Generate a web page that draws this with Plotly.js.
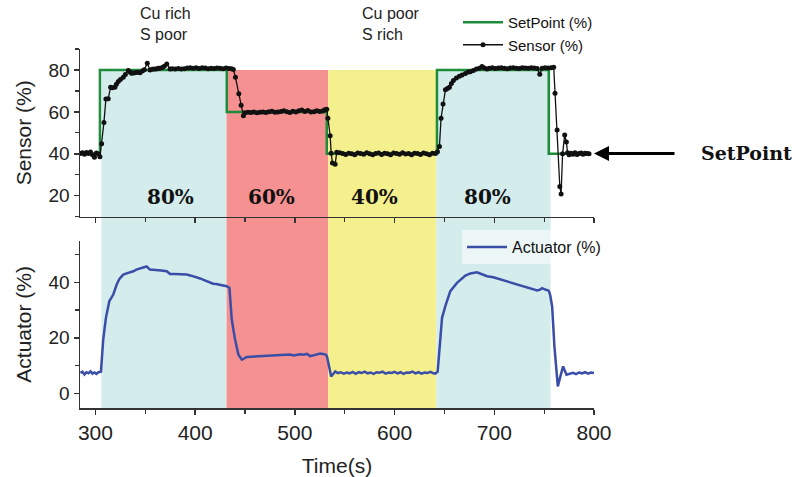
<!DOCTYPE html>
<html>
<head>
<meta charset="utf-8">
<script src="https://cdn.plot.ly/plotly-3.0.1.min.js"></script>
<style>html,body{margin:0;padding:0;background:#fff;}#chart{width:806px;height:477px;}</style>
</head>
<body>
<div id="chart"></div>
<script>
// ---- data ----
const setpointTime = [285, 304.5, 304.5, 431.7, 431.7, 532, 532, 642.5, 642.5, 754.6, 754.6, 795];
const setpointValue = [40, 40, 80, 80, 60, 60, 40, 40, 80, 80, 40, 40];

const sensorTime = [
  285, 287, 289, 291, 293, 295, 297, 299, 301, 303, 304.5,
  306.2, 308.5, 310.5, 312.8, 315.2, 317, 319.5, 321, 322.9, 325, 327.9, 330, 332.9, 334.5, 336.2, 338, 340, 342, 344.6, 347, 349,
  352, 354.7, 357, 359, 361, 363, 364.7, 367, 369, 371.5, 374.8, 377, 380, 383, 386, 389, 392, 395, 398, 401, 404, 407, 410, 413,
  416, 419, 422, 425, 428, 431, 434, 436.5, 438.3, 440.4, 443.8, 446.1, 448.4,
  450, 453, 456, 459, 462, 465, 468, 471, 474, 477, 480, 483, 486, 489, 492, 495, 498, 501, 504, 507, 510, 513, 516, 519, 522, 525, 528, 530, 532,
  533.1, 535.4, 536.4, 537.7, 540.4, 542,
  545, 548, 551, 554, 557, 560, 563, 566, 569, 572, 575, 578, 581, 584, 587, 590, 593, 596, 599, 602, 605, 608, 611, 614, 617, 620, 623, 626, 629, 632, 635, 638, 641,
  643, 645, 646.6, 648.6, 651, 653, 655, 657, 659, 662, 665, 667.7, 671, 674, 676, 679, 682, 685, 687.7, 690, 692.7, 695, 698, 701, 704, 707, 710, 713, 716, 719,
  722, 725, 728, 731, 734, 737, 740, 743, 745.6, 748, 751, 754, 757, 759.6,
  760.9, 763, 765.7, 767, 768.5, 770.6, 772.3, 773.5, 775, 777, 779, 781, 783, 785, 787, 789, 791, 793, 795
];
const sensorValue = [
  40.2, 40.5, 39.8, 40.6, 40.1, 40.9, 39.6, 38.4, 40.4, 39.9, 38.6,
  44.8, 54.9, 66.2, 66.3, 71.8, 71.5, 71.8, 73.2, 74.5, 75.5, 76.5, 77.8, 79.7, 79.0, 78.4, 78.6, 78.7, 78.9, 78.7, 79.5, 80.1,
  83.2, 80.0, 80.3, 80.4, 80.5, 80.8, 80.8, 81.2, 81.8, 82.9, 80.5, 80.6, 80.4, 80.7, 80.5, 80.6, 80.9, 81.1, 80.8, 81.0, 80.7, 81.1, 80.9, 80.6,
  80.8, 80.7, 80.9, 80.8, 80.6, 80.9, 80.7, 80.6, 80.2, 76.5, 68.6, 63.2, 58.1,
  59.6, 59.8, 59.7, 59.9, 59.6, 59.8, 60.0, 59.7, 60.1, 60.3, 59.8, 59.9, 60.2, 60.6, 60.1, 59.7, 60.3, 60.0, 60.6, 60.9, 60.2, 60.7, 59.9, 60.1, 60.6, 60.2, 60.4, 61.0, 61.3,
  57.0, 48.6, 40.3, 35.6, 35.0, 40.8,
  40.5, 40.1, 39.7, 40.3, 40.0, 39.6, 40.4, 40.1, 39.8, 40.5, 40.0, 39.5, 40.2, 40.4, 39.7, 40.3, 40.0, 39.6, 40.4, 40.1, 39.8, 40.5, 39.9, 40.2, 39.5, 40.3, 40.1, 39.7, 40.4, 40.0, 39.6, 40.3, 40.1,
  41.0, 43.5, 57.0, 63.8, 70.5, 71.2, 71.7, 73.5, 75.0, 76.2, 77.0, 77.6, 78.3, 79.0, 79.2, 79.8, 80.4, 80.8, 81.6, 80.9, 80.5, 80.8, 81.0, 80.7, 80.9, 81.1, 80.8, 80.6, 80.9, 81.0,
  80.8, 80.7, 81.0, 80.9, 80.8, 81.0, 80.9, 80.7, 78.0, 80.8, 81.0, 80.9, 81.1, 81.3,
  68.9, 51.4, 24.4, 20.8, 40.0, 49.0, 45.6, 40.5, 39.6, 40.3, 39.8, 40.5, 39.7, 40.2, 40.4, 39.8, 40.3, 40.1, 40.0
];

const actuatorTime = [
  285, 287, 289, 291, 293, 295, 297, 299, 301, 303, 305.5, 307.8, 310.5, 313.9, 317.9, 321.3, 324, 327.9, 332, 335, 338, 341, 344, 348,
  351.3, 354.7, 358, 362, 366, 371.5, 374.8, 379, 384, 388, 391.6, 396, 401.6, 405, 409, 412, 415, 418, 421, 425, 428, 431.7, 434.4,
  436.7, 440, 443.4, 446.8, 451.8, 456, 461, 466, 471.9, 477, 482, 487, 492, 495, 498.7, 502, 505.4, 509, 512, 515.4, 518, 521, 525.5,
  528, 530.5, 532.1, 534, 536.4, 538, 540.5, 543,
  546, 549, 552, 555, 558, 561, 564, 567, 570, 573, 576, 579, 582, 585, 588, 591, 594, 597, 600, 603, 606, 609, 612, 615, 618, 621, 624, 627, 630, 633, 636, 639,
  640.9, 643.2, 645.2, 647.6, 650.9, 655.9, 662.6, 667, 671, 676, 682.7, 687, 692.8, 699, 706.1, 712, 717, 722.9, 728, 733, 738, 743,
  745.5, 748, 751, 754.6, 756, 758, 760.3, 762, 763.7, 766.3, 769, 772.4, 776.4, 779, 782, 785, 788, 791, 794, 797, 800
];
const actuatorValue = [
  7.3, 7.8, 6.8, 7.6, 7.2, 7.9, 7.1, 7.5, 7.0, 7.6, 7.8, 19.4, 27.2, 33.2, 35.6, 39.2, 41.2, 42.8, 43.3, 43.6, 44.0, 44.6, 45.0, 45.5,
  45.7, 44.6, 44.5, 44.6, 44.3, 44.0, 43.0, 43.0, 42.9, 42.8, 42.8, 42.4, 41.9, 41.4, 40.8, 40.3, 39.8, 39.5, 39.4, 39.2, 38.8, 38.6, 38.0,
  26.6, 19.4, 13.9, 12.1, 13.1, 13.2, 13.3, 13.5, 13.6, 13.8, 13.7, 13.9, 13.9, 14.0, 13.6, 13.9, 14.1, 13.9, 14.2, 13.4, 13.6, 14.1, 14.3,
  14.2, 14.0, 13.4, 10.5, 6.1, 6.8, 7.9, 7.3,
  7.6, 7.1, 7.5, 7.2, 7.7, 7.0, 7.6, 7.3, 7.8, 7.2, 7.5, 7.0, 7.6, 7.4, 7.8, 7.1, 7.5, 7.3, 7.7, 7.2, 7.6, 7.0, 7.5, 7.4, 7.8, 7.2, 7.6, 7.1, 7.5, 7.3, 7.7, 7.2,
  7.1, 7.8, 16.9, 27.2, 31.4, 36.8, 39.8, 41.3, 42.4, 43.2, 43.6, 43.0, 42.2, 41.8, 41.0, 40.5, 39.9, 39.2, 38.7, 38.2, 37.6, 37.1,
  37.3, 37.9, 37.4, 37.0, 35.5, 31.4, 16.9, 8.0, 2.5, 6.1, 9.7, 6.7, 7.1, 7.4, 6.9, 7.5, 7.2, 7.6, 7.1, 7.5, 7.3
];

const regionStart = [306, 431.5, 533.5, 642];
const regionEnd = [431.5, 533.5, 642, 756.5];
const regionColor = ['#d4ecec', '#f59191', '#f4f08e', '#d4ecec'];
const regionLabel = ['80%', '60%', '40%', '80%'];
const regionLabelTime = [375, 477, 580, 693];

// ---- layout geometry ----
const W = 806, H = 477;
const M = {l: 80, r: 212, t: 49, b: 69, autoexpand: false};
const topDomain = [0.5329, 1];
const botDomain = [0, 0.466];
const topRange = [10, 90];
const botRange = [-5.3, 55];
const xRange = [284.5, 800];
const plotH = H - M.t - M.b;
const topPaper = v => topDomain[0] + (v - topRange[0]) / (topRange[1] - topRange[0]) * (topDomain[1] - topDomain[0]);
const pxToPaperY = py => (H - M.b - py) / plotH;
const pxToPaperX = px => (px - M.l) / (W - M.l - M.r);

const sansFont = 'Liberation Sans, Arial, sans-serif';
const serifFont = 'DejaVu Serif, serif';
const axisCol = '#333';

const traces = [
  {x: setpointTime, y: setpointValue, xaxis: 'x2', yaxis: 'y2', type: 'scatter', mode: 'lines',
   name: 'SetPoint (%)', line: {color: '#1f8c3b', width: 2.5}, legend: 'legend'},
  {x: sensorTime, y: sensorValue, xaxis: 'x2', yaxis: 'y2', type: 'scatter', mode: 'lines+markers',
   name: 'Sensor (%)', line: {color: '#111', width: 1.3}, marker: {color: '#111', size: 5}, legend: 'legend'},
  {x: actuatorTime, y: actuatorValue, xaxis: 'x', yaxis: 'y', type: 'scatter', mode: 'lines',
   name: 'Actuator (%)', line: {color: '#3a4ea8', width: 2.5}, legend: 'legend2'}
];

const shapes = regionStart.map((s, i) => ({
  type: 'rect', xref: 'x', yref: 'paper', x0: s, x1: regionEnd[i], y0: 0, y1: topPaper(80),
  fillcolor: regionColor[i], line: {width: 0}, layer: 'below'
}));

const annotations = regionLabel.map((t, i) => ({
  xref: 'x2', yref: 'y2', x: regionLabelTime[i], y: 19.4, text: '<b>' + t + '</b>', showarrow: false,
  font: {family: serifFont, size: 20, color: '#111'}
}));
annotations.push(
  {xref: 'x2', yref: 'paper', x: 342.5, y: pxToPaperY(24), xanchor: 'left', yanchor: 'middle', align: 'left',
   text: 'Cu rich<br>S poor', showarrow: false, font: {family: sansFont, size: 16, color: '#222'}},
  {xref: 'x2', yref: 'paper', x: 565.5, y: pxToPaperY(24), xanchor: 'left', yanchor: 'middle', align: 'left',
   text: 'Cu poor<br>S rich', showarrow: false, font: {family: sansFont, size: 16, color: '#222'}},
  {xref: 'paper', yref: 'y2', x: pxToPaperX(594), y: 40.2, text: '', showarrow: true, ax: 82, ay: 0,
   arrowhead: 2, arrowsize: 1, arrowwidth: 3, arrowcolor: '#000', standoff: 0, startstandoff: 0},
  {xref: 'paper', yref: 'y2', x: pxToPaperX(699), y: 40.2, xanchor: 'left', yanchor: 'middle',
   text: '<b>SetPoint</b>', showarrow: false, font: {family: serifFont, size: 19, color: '#111'}}
);

const baseX = {
  range: xRange, showgrid: false, zeroline: false, showline: true, linecolor: axisCol, linewidth: 1.5,
  ticks: 'outside', ticklen: 5, tickwidth: 1.5, tickcolor: axisCol, dtick: 100, tick0: 0,
  minor: {ticks: 'outside', ticklen: 4, tickwidth: 1.2, tickcolor: axisCol, dtick: 50}
};

const layout = {
  width: W, height: H,
  margin: M,
  paper_bgcolor: '#fff', plot_bgcolor: 'rgba(0,0,0,0)',
  font: {family: sansFont, color: '#222'},
  showlegend: true,
  xaxis: Object.assign({}, baseX, {
    domain: [0, 1], anchor: 'y', automargin: false,
    tickfont: {size: 21, family: sansFont, color: '#222'},
    title: {text: 'Time(s)', font: {size: 21, family: sansFont, color: '#222'}, standoff: 16}
  }),
  xaxis2: Object.assign({}, baseX, {
    domain: [0, 1], anchor: 'y2', matches: 'x', showticklabels: false, automargin: false
  }),
  yaxis: {
    domain: botDomain, anchor: 'x', range: botRange, showgrid: false, zeroline: false, automargin: false,
    showline: true, linecolor: axisCol, linewidth: 1.5,
    ticks: 'outside', ticklen: 5, tickwidth: 1.5, tickcolor: axisCol, dtick: 20, tick0: 0,
    minor: {ticks: 'outside', ticklen: 4, tickwidth: 1.2, tickcolor: axisCol, dtick: 10},
    tickfont: {size: 19, family: sansFont, color: '#222'},
    title: {text: 'Actuator (%)', font: {size: 21, family: sansFont, color: '#222'}, standoff: 11}
  },
  yaxis2: {
    domain: topDomain, anchor: 'x2', range: topRange, showgrid: false, zeroline: false, automargin: false,
    showline: true, linecolor: axisCol, linewidth: 1.5,
    ticks: 'outside', ticklen: 5, tickwidth: 1.5, tickcolor: axisCol, dtick: 20, tick0: 0,
    minor: {ticks: 'outside', ticklen: 4, tickwidth: 1.2, tickcolor: axisCol, dtick: 10},
    tickfont: {size: 19, family: sansFont, color: '#222'},
    title: {text: 'Sensor (%)', font: {size: 21, family: sansFont, color: '#222'}, standoff: 11}
  },
  legend: {
    x: pxToPaperX(458), y: pxToPaperY(6), xanchor: 'left', yanchor: 'top',
    bgcolor: 'rgba(255,255,255,0)', font: {size: 15, family: sansFont, color: '#111'},
    itemwidth: 40, tracegroupgap: 0
  },
  legend2: {
    x: pxToPaperX(462), y: pxToPaperY(230), xanchor: 'left', yanchor: 'top',
    bgcolor: 'rgba(255,255,255,0.55)', font: {size: 16, family: sansFont, color: '#111'},
    itemwidth: 40
  },
  shapes: shapes,
  annotations: annotations
};

Plotly.newPlot('chart', traces, layout, {displayModeBar: false, staticPlot: true});
</script>
</body>
</html>
